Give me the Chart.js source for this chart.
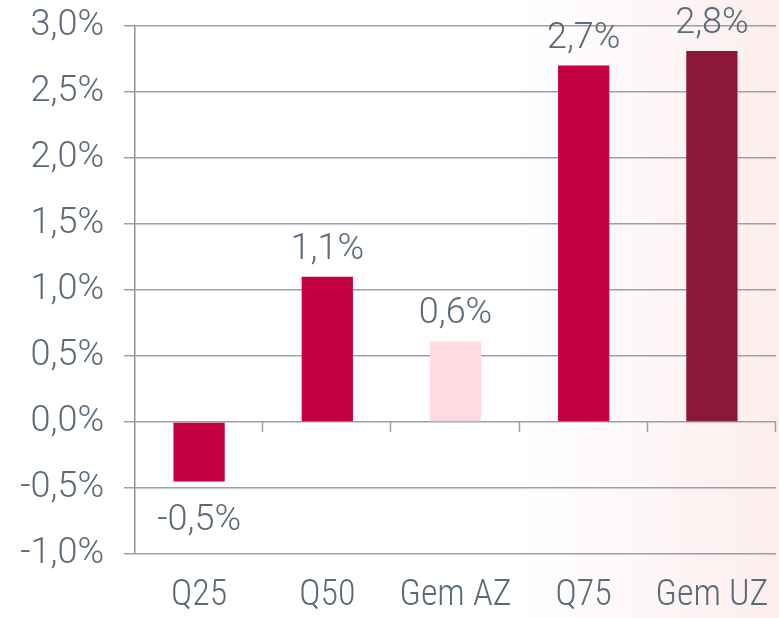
<!DOCTYPE html>
<html>
<head>
<meta charset="utf-8">
<script src="https://cdn.jsdelivr.net/npm/chart.js@4"></script>
<style>
  html, body { margin: 0; padding: 0; }
  body { width: 779px; height: 618px; overflow: hidden;
         background: linear-gradient(to right, #ffffff 66%, #fcedee 100%); }
  #wrap { width: 779px; height: 618px; position: relative; }
</style>
</head>
<body>
<div id="wrap"><canvas id="chart"></canvas></div>
<script>
const categories = ['Q25', 'Q50', 'Gem AZ', 'Q75', 'Gem UZ'];
const values = [-0.45, 1.1, 0.61, 2.7, 2.81];
const yMin = -1.0;
const yMax = 3.0;
const yStep = 0.5;

const textColor = '#5a6a78';
const lineColor = '#9aa0a6';
const fontFamily = 'Roboto, "Open Sans", sans-serif';
const fontSize = 36;

const fmt = v => v.toFixed(1).replace('.', ',') + '%';

// value labels above / below each bar
const barLabels = {
    id: 'barLabels',
    afterDatasetsDraw(chart) {
        const ctx = chart.ctx;
        const meta = chart.getDatasetMeta(0);
        ctx.save();
        ctx.font = '300 ' + fontSize + 'px ' + fontFamily;
        ctx.fillStyle = textColor;
        ctx.textAlign = 'center';
        ctx.textBaseline = 'alphabetic';
        meta.data.forEach((bar, i) => {
            const v = values[i];
            const y = v >= 0 ? bar.y - 18 : bar.y + 49;
            ctx.fillText(fmt(v), bar.x, y);
        });
        ctx.restore();
    }
};

// small tick marks on the zero line between categories
const zeroTicks = {
    id: 'zeroTicks',
    beforeDatasetsDraw(chart) {
        const ctx = chart.ctx;
        const xs = chart.scales.x;
        const y0 = chart.scales.y.getPixelForValue(0);
        const n = categories.length;
        ctx.save();
        ctx.strokeStyle = lineColor;
        ctx.lineWidth = 1.5;
        for (let i = 1; i <= n; i++) {
            const x = Math.round(xs.left + i * xs.width / n) - 0.5;
            ctx.beginPath();
            ctx.moveTo(x, y0);
            ctx.lineTo(x, y0 + 10);
            ctx.stroke();
        }
        ctx.restore();
    }
};

// chart.js checks font.style, so the stretch keyword rides along with the weight
const catFont = { family: fontFamily, size: fontSize, weight: 'condensed 300' };
const numFont = { family: fontFamily, size: fontSize, weight: 300 };

new Chart(document.getElementById('chart'), {
    type: 'bar',
    data: {
        labels: categories,
        datasets: [{
            data: values,
            backgroundColor: ['#c40044', '#c40044', '#ffdbe1', '#c40044', '#8c1738'],
            borderWidth: 0,
            barPercentage: 0.4,
            categoryPercentage: 1.0
        }]
    },
    options: {
        responsive: true,
        maintainAspectRatio: false,
        animation: false,
        layout: { padding: { top: 26, right: 3, left: 0, bottom: 0 } },
        plugins: {
            legend: { display: false },
            tooltip: { enabled: false }
        },
        scales: {
            x: {
                grid: { display: false, drawTicks: false },
                border: { display: false },
                ticks: {
                    color: textColor,
                    padding: 20,
                    font: catFont
                },
                afterFit: s => { s.height = 64; s.paddingLeft = 0; s.paddingRight = 0; }
            },
            y: {
                min: yMin,
                max: yMax,
                grid: { color: lineColor, lineWidth: 1.5, tickLength: 11 },
                border: { color: '#8e949a', width: 1.5 },
                ticks: {
                    stepSize: yStep,
                    color: textColor,
                    padding: 20,
                    font: numFont,
                    callback: v => fmt(v)
                },
                afterFit: s => { s.width = 135; s.paddingTop = 0; s.paddingBottom = 0; }
            }
        }
    },
    plugins: [zeroTicks, barLabels]
});
</script>
</body>
</html>
